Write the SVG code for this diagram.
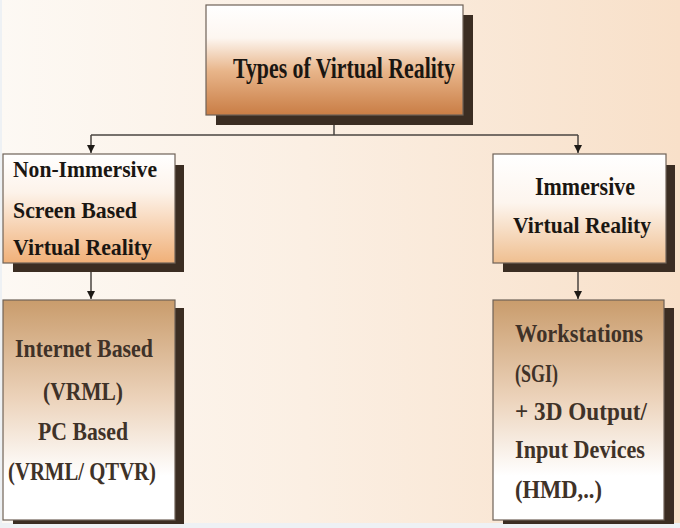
<svg xmlns="http://www.w3.org/2000/svg" width="680" height="528" viewBox="0 0 680 528">
  <defs>
    <linearGradient id="bg" x1="0" y1="0" x2="1" y2="0">
      <stop offset="0" stop-color="#fdf9f4"/>
      <stop offset="0.45" stop-color="#fbefe3"/>
      <stop offset="1" stop-color="#f8e0c9"/>
    </linearGradient>
    <linearGradient id="gTop" x1="0" y1="0" x2="0" y2="1">
      <stop offset="0" stop-color="#ffffff"/>
      <stop offset="0.3" stop-color="#fdf6f0"/>
      <stop offset="0.6" stop-color="#e8b58a"/>
      <stop offset="1" stop-color="#c97d45"/>
    </linearGradient>
    <linearGradient id="gDown" x1="0" y1="0" x2="0" y2="1">
      <stop offset="0" stop-color="#ffffff"/>
      <stop offset="0.35" stop-color="#fdf3ea"/>
      <stop offset="1" stop-color="#f0b078"/>
    </linearGradient>
    <linearGradient id="gDown2" x1="0" y1="0" x2="0" y2="1">
      <stop offset="0" stop-color="#ffffff"/>
      <stop offset="0.45" stop-color="#fdf5ee"/>
      <stop offset="1" stop-color="#efbf90"/>
    </linearGradient>
    <linearGradient id="gUp" x1="0" y1="0" x2="0" y2="1">
      <stop offset="0" stop-color="#c99c6c"/>
      <stop offset="0.45" stop-color="#ecd3bb"/>
      <stop offset="0.8" stop-color="#ffffff"/>
      <stop offset="1" stop-color="#ffffff"/>
    </linearGradient>
    <marker id="arrow" viewBox="0 0 10 10" refX="10" refY="5" markerWidth="8" markerHeight="8" markerUnits="userSpaceOnUse" orient="auto">
      <path d="M0,0 L10,5 L0,10 Z" fill="#1e1a16"/>
    </marker>
  </defs>
  <style>
    .shadow { fill: #3b2d22; }
    .box { stroke: #6e6258; stroke-width: 1.2; }
    .lbl { font-family: "Liberation Serif", "Times New Roman", serif; font-weight: bold; }
    .dark { fill: #1a1612; }
    .muted { fill: #3f3228; }
    .conn { fill: none; stroke: #4a4440; stroke-width: 1.5; }
  </style>

  <!-- page background -->
  <rect x="0" y="0" width="680" height="528" fill="url(#bg)"/>
  <rect x="0" y="523" width="680" height="5" fill="#eef1f4"/>
  <rect x="0" y="0" width="2" height="528" fill="#eef1f4"/>

  <!-- connectors -->
  <g id="connectors">
    <path class="conn" d="M334,125 V135"/>
    <path class="conn" d="M91,135 H578"/>
    <path class="conn" d="M91,135 V153" marker-end="url(#arrow)"/>
    <path class="conn" d="M578,135 V153" marker-end="url(#arrow)"/>
    <path class="conn" d="M91,271 V299" marker-end="url(#arrow)"/>
    <path class="conn" d="M578,272 V299" marker-end="url(#arrow)"/>
  </g>

  <!-- root -->
  <g id="types">
    <rect class="shadow" x="216" y="15" width="257" height="110"/>
    <rect class="box" x="206" y="5" width="257" height="110" fill="url(#gTop)"/>
    <text class="lbl dark" x="233" y="78" font-size="30" textLength="222" lengthAdjust="spacingAndGlyphs">Types of Virtual Reality</text>
  </g>

  <!-- non-immersive -->
  <g id="non-immersive">
    <rect class="shadow" x="13" y="165" width="171" height="107"/>
    <rect class="box" x="3" y="154" width="172" height="109" fill="url(#gDown)"/>
    <text class="lbl dark" x="13" y="177" font-size="24" textLength="144" lengthAdjust="spacingAndGlyphs">Non-Immersive</text>
    <text class="lbl dark" x="13" y="218" font-size="24" textLength="124" lengthAdjust="spacingAndGlyphs">Screen Based</text>
    <text class="lbl dark" x="13" y="255" font-size="24" textLength="139" lengthAdjust="spacingAndGlyphs">Virtual Reality</text>
  </g>

  <!-- immersive -->
  <g id="immersive">
    <rect class="shadow" x="503" y="165" width="172" height="107"/>
    <rect class="box" x="493" y="154" width="173" height="109" fill="url(#gDown2)"/>
    <text class="lbl dark" x="535" y="195" font-size="26" textLength="100" lengthAdjust="spacingAndGlyphs">Immersive</text>
    <text class="lbl dark" x="513" y="233" font-size="24" textLength="138" lengthAdjust="spacingAndGlyphs">Virtual Reality</text>
  </g>

  <!-- internet / pc based -->
  <g id="pc-based">
    <rect class="shadow" x="13" y="308" width="171" height="216"/>
    <rect class="box" x="3" y="300" width="172" height="220" fill="url(#gUp)"/>
    <text class="lbl muted" x="15" y="357" font-size="26" textLength="138" lengthAdjust="spacingAndGlyphs">Internet Based</text>
    <text class="lbl muted" x="43" y="400" font-size="26" textLength="80" lengthAdjust="spacingAndGlyphs">(VRML)</text>
    <text class="lbl muted" x="38" y="440" font-size="26" textLength="90" lengthAdjust="spacingAndGlyphs">PC Based</text>
    <text class="lbl muted" x="8" y="480" font-size="26" textLength="148" lengthAdjust="spacingAndGlyphs">(VRML/ QTVR)</text>
  </g>

  <!-- workstations -->
  <g id="workstations">
    <rect class="shadow" x="503" y="308" width="171" height="216"/>
    <rect class="box" x="493" y="300" width="171" height="220" fill="url(#gUp)"/>
    <text class="lbl muted" x="515" y="342" font-size="25" textLength="128" lengthAdjust="spacingAndGlyphs">Workstations</text>
    <text class="lbl muted" x="515" y="382" font-size="25" textLength="43" lengthAdjust="spacingAndGlyphs">(SGI)</text>
    <text class="lbl muted" x="515" y="420" font-size="25" textLength="132" lengthAdjust="spacingAndGlyphs">+ 3D Output/</text>
    <text class="lbl muted" x="515" y="458" font-size="25" textLength="130" lengthAdjust="spacingAndGlyphs">Input Devices</text>
    <text class="lbl muted" x="515" y="498" font-size="25" textLength="87" lengthAdjust="spacingAndGlyphs">(HMD,..)</text>
  </g>
</svg>
